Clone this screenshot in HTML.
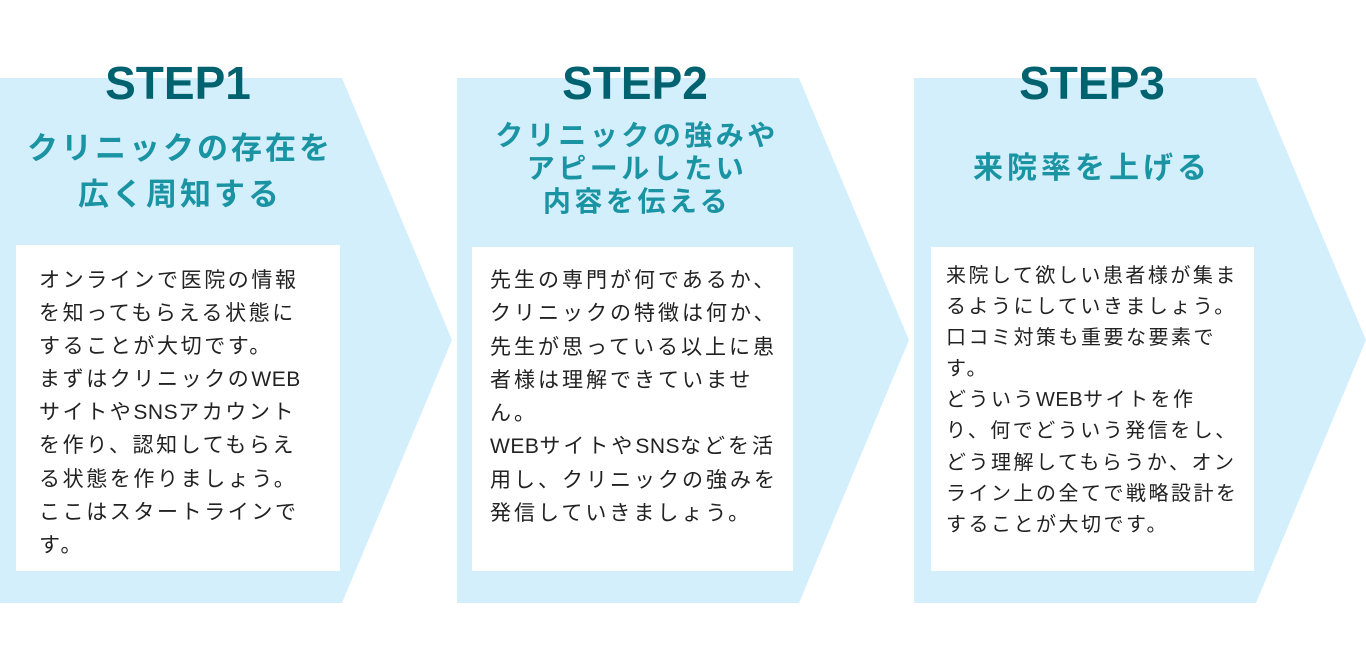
<!DOCTYPE html>
<html><head><meta charset="utf-8"><style>
body{margin:0;width:1366px;height:667px;background:#fff;position:relative;overflow:hidden;font-family:"Liberation Sans","Noto Sans CJK JP",sans-serif}
svg{position:absolute;left:0;top:0}
.step{position:absolute;width:360px;text-align:center;font-weight:bold;color:#00626f;font-size:46px;line-height:46px;top:60px}
.sub{position:absolute;width:360px;text-align:center;font-weight:bold;color:#1a93a3}
.box{position:absolute;background:#fff}
.txt{position:absolute;color:#222;font-size:21px;white-space:nowrap}
.l{letter-spacing:0.5px}
</style></head><body>
<svg width="1366" height="667">
<polygon points="0,78 342,78 452,340 342,603 0,603" fill="#d3effc"/>
<polygon points="457,78 799,78 909,340 799,603 457,603" fill="#d3effc"/>
<polygon points="914,78 1256,78 1366,340 1256,603 914,603" fill="#d3effc"/>
</svg>
<div class="step" style="left:-2px">STEP1</div>
<div class="step" style="left:455px">STEP2</div>
<div class="step" style="left:912px">STEP3</div>
<div class="sub" style="left:0;width:360px;top:126px;font-size:31px;line-height:46px;letter-spacing:3px">クリニックの存在を<br>広く周知する</div>
<div class="sub" style="left:457px;width:360px;top:119px;font-size:28px;line-height:33px;letter-spacing:3.5px">クリニックの強みや<br>アピールしたい<br>内容を伝える</div>
<div class="sub" style="left:912px;width:360px;top:151px;font-size:30px;line-height:36px;letter-spacing:4px">来院率を上げる</div>
<div class="box" style="left:16px;top:245px;width:324px;height:326px"></div>
<div class="box" style="left:472px;top:247px;width:321px;height:324px"></div>
<div class="box" style="left:931px;top:247px;width:323px;height:324px"></div>
<div class="txt" style="left:39px;top:264px;line-height:33.1px;letter-spacing:2.6px">オンラインで医院の情報<br>を知ってもらえる状態に<br>することが大切です。<br>まずはクリニックの<span class="l">WEB</span><br>サイトや<span class="l">SNS</span>アカウント<br>を作り、認知してもらえ<br>る状態を作りましょう。<br>ここはスタートラインで<br>す。</div>
<div class="txt" style="left:490px;top:264px;line-height:33.3px;letter-spacing:3px">先生の専門が何であるか、<br>クリニックの特徴は何か、<br>先生が思っている以上に患<br>者様は理解できていませ<br>ん。<br><span class="l">WEB</span>サイトや<span class="l">SNS</span>などを活<br>用し、クリニックの強みを<br>発信していきましょう。</div>
<div class="txt" style="left:946px;top:261px;font-size:20px;line-height:31.1px;letter-spacing:2.5px">来院して欲しい患者様が集ま<br>るようにしていきましょう。<br>口コミ対策も重要な要素で<br>す。<br>どういう<span class="l">WEB</span>サイトを作<br>り、何でどういう発信をし、<br>どう理解してもらうか、オン<br>ライン上の全てで戦略設計を<br>することが大切です。</div>
</body></html>
